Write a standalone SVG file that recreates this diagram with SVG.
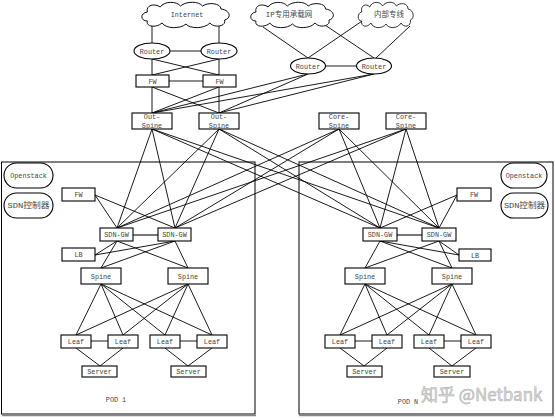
<svg xmlns="http://www.w3.org/2000/svg" width="555" height="418" viewBox="0 0 555 418">
<style>
.bg{fill:#fff}
.ln{stroke:#000;stroke-width:0.9;fill:none}
.gw{stroke:#777;stroke-width:2;fill:none}
.box{fill:#fff;stroke:#000;stroke-width:1.1}
.pod{fill:none;stroke:#000;stroke-width:1}
.sh{stroke:#888;stroke-width:1.5;fill:none}
.cl{fill:#fff;stroke:#000;stroke-width:1}
.t{font-family:"Liberation Mono","Noto Sans CJK SC",monospace;font-size:6.8px;fill:#444;text-anchor:middle}
.c{font-family:"Liberation Mono","Noto Sans CJK SC",monospace;font-size:7.5px;fill:#444;text-anchor:middle}
.wm{font-family:"Noto Sans CJK SC","Liberation Sans",sans-serif;font-size:17px;fill:#ddd;stroke:#aaa;stroke-width:0.5;text-anchor:start}
</style>
<defs>
<path id="cloud" d="M8,20 C0,20 0,12 8,11 C6,4 16,2 22,6 C26,0 40,0 44,5 C50,0 64,0 68,5 C74,1 88,2 88,8 C98,9 100,17 92,19 C94,26 80,27 76,22 C70,28 54,28 50,23 C44,28 28,28 24,22 C18,27 6,26 8,20 Z"/>
</defs>
<rect class="bg" width="555" height="418"/>

<g id="pods">
<rect class="pod" x="1.5" y="162" width="253.5" height="252"/>
<line class="sh" x1="2" y1="415.5" x2="256" y2="415.5"/>
<rect class="pod" x="299" y="162" width="254" height="252"/>
<line class="sh" x1="299" y1="415.5" x2="554" y2="415.5"/>
</g>

<g id="connectors">
<line class="ln" x1="152" y1="26" x2="152" y2="43"/>
<line class="ln" x1="219" y1="26" x2="219" y2="43"/>
<line class="ln" x1="263" y1="27" x2="308" y2="58"/>
<line class="ln" x1="322" y1="23" x2="374" y2="58"/>
<line class="ln" x1="365" y1="19" x2="308" y2="58"/>
<line class="ln" x1="410" y1="26" x2="376" y2="58"/>
<line class="ln" x1="170" y1="51" x2="201" y2="51"/>
<line class="ln" x1="325" y1="66" x2="357" y2="66"/>
<line class="ln" x1="152" y1="59" x2="219" y2="75"/>
<line class="ln" x1="219" y1="59" x2="152" y2="75"/>
<line class="ln" x1="152" y1="59" x2="152" y2="75"/>
<line class="ln" x1="219" y1="59" x2="219" y2="75"/>
<line class="ln" x1="169" y1="81" x2="203" y2="81"/>
<line class="ln" x1="152" y1="87" x2="152" y2="113"/>
<line class="ln" x1="219" y1="87" x2="219" y2="113"/>
<line class="ln" x1="152" y1="87" x2="219" y2="113"/>
<line class="ln" x1="219" y1="87" x2="152" y2="113"/>
<line class="ln" x1="308" y1="74" x2="152" y2="113"/>
<line class="ln" x1="308" y1="74" x2="219" y2="113"/>
<line class="ln" x1="374" y1="74" x2="152" y2="113"/>
<line class="ln" x1="374" y1="74" x2="219" y2="113"/>
<line class="ln" x1="152" y1="129" x2="117" y2="228"/>
<line class="ln" x1="152" y1="129" x2="175" y2="228"/>
<line class="ln" x1="152" y1="129" x2="380" y2="228"/>
<line class="ln" x1="152" y1="129" x2="439" y2="228"/>
<line class="ln" x1="219" y1="129" x2="117" y2="228"/>
<line class="ln" x1="219" y1="129" x2="175" y2="228"/>
<line class="ln" x1="219" y1="129" x2="380" y2="228"/>
<line class="ln" x1="219" y1="129" x2="439" y2="228"/>
<line class="ln" x1="339" y1="129" x2="117" y2="228"/>
<line class="ln" x1="339" y1="129" x2="175" y2="228"/>
<line class="ln" x1="339" y1="129" x2="380" y2="228"/>
<line class="ln" x1="339" y1="129" x2="439" y2="228"/>
<line class="ln" x1="406" y1="129" x2="117" y2="228"/>
<line class="ln" x1="406" y1="129" x2="175" y2="228"/>
<line class="ln" x1="406" y1="129" x2="380" y2="228"/>
<line class="ln" x1="406" y1="129" x2="439" y2="228"/>
<line class="ln" x1="95" y1="195" x2="117" y2="228"/>
<line class="ln" x1="95" y1="195" x2="175" y2="228"/>
<line class="ln" x1="95" y1="255" x2="117" y2="241"/>
<line class="ln" x1="95" y1="255" x2="175" y2="241"/>
<line class="gw" x1="133" y1="235" x2="158" y2="235"/>
<line class="ln" x1="101" y1="268" x2="117" y2="241"/>
<line class="ln" x1="101" y1="268" x2="175" y2="241"/>
<line class="ln" x1="188" y1="268" x2="117" y2="241"/>
<line class="ln" x1="188" y1="268" x2="175" y2="241"/>
<line class="ln" x1="101" y1="284" x2="76" y2="335"/>
<line class="ln" x1="101" y1="284" x2="123" y2="335"/>
<line class="ln" x1="101" y1="284" x2="165" y2="335"/>
<line class="ln" x1="101" y1="284" x2="212" y2="335"/>
<line class="ln" x1="188" y1="284" x2="76" y2="335"/>
<line class="ln" x1="188" y1="284" x2="123" y2="335"/>
<line class="ln" x1="188" y1="284" x2="165" y2="335"/>
<line class="ln" x1="188" y1="284" x2="212" y2="335"/>
<line class="ln" x1="91" y1="341" x2="108" y2="341"/>
<line class="ln" x1="180" y1="341" x2="197" y2="341"/>
<line class="ln" x1="76" y1="348" x2="100" y2="366"/>
<line class="ln" x1="123" y1="348" x2="100" y2="366"/>
<line class="ln" x1="165" y1="348" x2="188" y2="366"/>
<line class="ln" x1="212" y1="348" x2="188" y2="366"/>
<line class="ln" x1="457" y1="195" x2="380" y2="228"/>
<line class="ln" x1="457" y1="195" x2="439" y2="228"/>
<line class="ln" x1="459" y1="255" x2="380" y2="241"/>
<line class="ln" x1="459" y1="255" x2="439" y2="241"/>
<line class="gw" x1="397" y1="235" x2="422" y2="235"/>
<line class="ln" x1="365" y1="268" x2="380" y2="241"/>
<line class="ln" x1="365" y1="268" x2="439" y2="241"/>
<line class="ln" x1="452" y1="268" x2="380" y2="241"/>
<line class="ln" x1="452" y1="268" x2="439" y2="241"/>
<line class="ln" x1="365" y1="284" x2="340" y2="335"/>
<line class="ln" x1="365" y1="284" x2="387" y2="335"/>
<line class="ln" x1="365" y1="284" x2="429" y2="335"/>
<line class="ln" x1="365" y1="284" x2="476" y2="335"/>
<line class="ln" x1="452" y1="284" x2="340" y2="335"/>
<line class="ln" x1="452" y1="284" x2="387" y2="335"/>
<line class="ln" x1="452" y1="284" x2="429" y2="335"/>
<line class="ln" x1="452" y1="284" x2="476" y2="335"/>
<line class="ln" x1="355" y1="341" x2="372" y2="341"/>
<line class="ln" x1="444" y1="341" x2="461" y2="341"/>
<line class="ln" x1="340" y1="348" x2="364" y2="366"/>
<line class="ln" x1="387" y1="348" x2="364" y2="366"/>
<line class="ln" x1="429" y1="348" x2="452" y2="366"/>
<line class="ln" x1="476" y1="348" x2="452" y2="366"/>
</g>

<g id="cloud-internet"><use href="#cloud" class="cl" transform="translate(140,1) scale(0.92,1)"/><text class="t" x="187" y="17">Internet</text></g>
<g id="cloud-ip"><use href="#cloud" class="cl" transform="translate(249,1) scale(0.87,1)"/><text class="c" x="289" y="17">IP专用承载网</text></g>
<g id="cloud-inner"><use href="#cloud" class="cl" transform="translate(357,1) scale(0.58,1)"/><text class="c" x="389" y="17">内部专线</text></g>

<g id="router1"><ellipse class="box" cx="152" cy="51" rx="18" ry="8"/><text class="t" x="152" y="53.5">Router</text></g>
<g id="router2"><ellipse class="box" cx="219" cy="51" rx="18" ry="8"/><text class="t" x="219" y="53.5">Router</text></g>
<g id="router3"><ellipse class="box" cx="308" cy="66" rx="17.5" ry="8"/><text class="t" x="308" y="68.5">Router</text></g>
<g id="router4"><ellipse class="box" cx="374" cy="66" rx="17.5" ry="8"/><text class="t" x="374" y="68.5">Router</text></g>

<g id="fw1"><rect class="box" x="136" y="75" width="33" height="12"/><text class="t" x="152.5" y="83.5">FW</text></g>
<g id="fw2"><rect class="box" x="203" y="75" width="33" height="12"/><text class="t" x="219.5" y="83.5">FW</text></g>

<g id="outspine1"><rect class="box" x="132" y="113" width="40" height="16"/><text class="t" x="152" y="119">Out-</text><text class="t" x="152" y="127.5">Spine</text></g>
<g id="outspine2"><rect class="box" x="199" y="113" width="40" height="16"/><text class="t" x="219" y="119">Out-</text><text class="t" x="219" y="127.5">Spine</text></g>
<g id="corespine1"><rect class="box" x="319" y="113" width="40" height="16"/><text class="t" x="339" y="119">Core-</text><text class="t" x="339" y="127.5">Spine</text></g>
<g id="corespine2"><rect class="box" x="386" y="113" width="40" height="16"/><text class="t" x="406" y="119">Core-</text><text class="t" x="406" y="127.5">Spine</text></g>

<g id="p1-openstack"><rect class="box" x="4" y="163" width="49" height="25" rx="12.5"/><text class="t" x="28.5" y="177.5">Openstack</text></g>
<g id="p1-sdnctl"><rect class="box" x="4" y="193" width="49" height="25" rx="12.5"/><text class="c" x="28.5" y="208" textLength="42" lengthAdjust="spacingAndGlyphs">SDN控制器</text></g>
<g id="p1-fw"><rect class="box" x="62" y="188" width="33" height="13"/><text class="t" x="78.5" y="197">FW</text></g>
<g id="p1-lb"><rect class="box" x="62" y="248" width="33" height="13"/><text class="t" x="78.5" y="257">LB</text></g>
<g id="p1-gw1"><rect class="box" x="100" y="228" width="33" height="13"/><text class="t" x="116.5" y="237">SDN-GW</text></g>
<g id="p1-gw2"><rect class="box" x="158" y="228" width="33" height="13"/><text class="t" x="174.5" y="237">SDN-GW</text></g>
<g id="p1-spine1"><rect class="box" x="81" y="268" width="40" height="16"/><text class="t" x="101" y="278.5">Spine</text></g>
<g id="p1-spine2"><rect class="box" x="168" y="268" width="40" height="16"/><text class="t" x="188" y="278.5">Spine</text></g>
<g id="p1-leaf1"><rect class="box" x="61" y="335" width="30" height="13"/><text class="t" x="76" y="344">Leaf</text></g>
<g id="p1-leaf2"><rect class="box" x="108" y="335" width="30" height="13"/><text class="t" x="123" y="344">Leaf</text></g>
<g id="p1-leaf3"><rect class="box" x="150" y="335" width="30" height="13"/><text class="t" x="165" y="344">Leaf</text></g>
<g id="p1-leaf4"><rect class="box" x="197" y="335" width="30" height="13"/><text class="t" x="212" y="344">Leaf</text></g>
<g id="p1-server1"><rect class="box" x="82" y="366" width="35" height="11"/><text class="t" x="99.5" y="374">Server</text></g>
<g id="p1-server2"><rect class="box" x="171" y="366" width="35" height="11"/><text class="t" x="188.5" y="374">Server</text></g>
<g id="p1-label"><text class="t" x="116" y="402">POD 1</text></g>

<g id="pn-openstack"><rect class="box" x="501" y="163" width="46" height="25" rx="12.5"/><text class="t" x="524" y="177.5">Openstack</text></g>
<g id="pn-sdnctl"><rect class="box" x="501" y="193" width="47" height="25" rx="12.5"/><text class="c" x="524.5" y="208" textLength="41" lengthAdjust="spacingAndGlyphs">SDN控制器</text></g>
<g id="pn-fw"><rect class="box" x="457" y="188" width="34" height="13"/><text class="t" x="474" y="197">FW</text></g>
<g id="pn-lb"><rect class="box" x="459" y="249" width="32" height="12"/><text class="t" x="475" y="257.5">LB</text></g>
<g id="pn-gw1"><rect class="box" x="363" y="228" width="34" height="13"/><text class="t" x="380" y="237">SDN-GW</text></g>
<g id="pn-gw2"><rect class="box" x="422" y="228" width="34" height="13"/><text class="t" x="439" y="237">SDN-GW</text></g>
<g id="pn-spine1"><rect class="box" x="345" y="268" width="40" height="16"/><text class="t" x="365" y="278.5">Spine</text></g>
<g id="pn-spine2"><rect class="box" x="432" y="268" width="40" height="16"/><text class="t" x="452" y="278.5">Spine</text></g>
<g id="pn-leaf1"><rect class="box" x="325" y="335" width="30" height="13"/><text class="t" x="340" y="344">Leaf</text></g>
<g id="pn-leaf2"><rect class="box" x="372" y="335" width="30" height="13"/><text class="t" x="387" y="344">Leaf</text></g>
<g id="pn-leaf3"><rect class="box" x="414" y="335" width="30" height="13"/><text class="t" x="429" y="344">Leaf</text></g>
<g id="pn-leaf4"><rect class="box" x="461" y="335" width="30" height="13"/><text class="t" x="476" y="344">Leaf</text></g>
<g id="pn-server1"><rect class="box" x="347" y="366" width="35" height="11"/><text class="t" x="364.5" y="374">Server</text></g>
<g id="pn-server2"><rect class="box" x="434" y="366" width="36" height="11"/><text class="t" x="452" y="374">Server</text></g>
<g id="pn-label"><text class="t" x="408" y="404">POD N</text></g>

<g id="watermark"><text class="wm" x="421" y="401">知乎 @Netbank</text></g>
</svg>
